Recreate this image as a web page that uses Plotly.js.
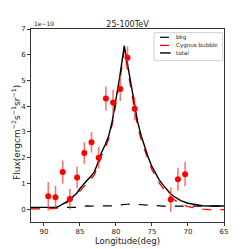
<!DOCTYPE html>
<html><head><meta charset="utf-8">
<script src="https://cdn.plot.ly/plotly-3.0.1.min.js"></script>
<style>html,body{margin:0;padding:0;background:#fff}#chart{width:249px;height:249px}</style>
</head><body><div id="chart"></div>
<script>
// data (flux in units of 1e-10)
const obsLon = [89.4, 88.4, 87.4, 86.4, 85.4, 84.4, 83.4, 82.4, 81.4, 80.4, 79.4, 78.4, 77.4, 72.4, 71.4, 70.4];
const obsFlux = [0.5, 0.46, 1.44, 0.39, 1.23, 2.18, 2.6, 2.0, 4.3, 4.14, 4.67, 5.88, 3.9, 0.37, 1.16, 1.36];
const obsErr = [0.55, 0.45, 0.45, 0.4, 0.42, 0.42, 0.4, 0.42, 0.47, 0.5, 0.47, 0.45, 0.45, 0.47, 0.45, 0.47];

const modelLon = [91.8, 91, 90, 89, 88.5, 88, 87.5, 87, 86.5, 86, 85.5, 85, 84.5, 84, 83.5, 83, 82.5, 82, 81.5, 81, 80.5, 80, 79.5, 79, 78.85, 78.5, 78, 77.5, 77, 76.5, 76, 75.5, 75, 74.5, 74, 73.5, 73, 72.5, 72, 71, 70, 69, 68, 67, 66, 65];
const bkgFlux = [0.05, 0.05, 0.05, 0.05, 0.05, 0.05, 0.05, 0.05, 0.05, 0.05, 0.07, 0.1, 0.12, 0.13, 0.12, 0.12, 0.12, 0.12, 0.12, 0.12, 0.13, 0.15, 0.17, 0.18, 0.19, 0.19, 0.2, 0.19, 0.18, 0.16, 0.14, 0.13, 0.12, 0.12, 0.12, 0.12, 0.12, 0.12, 0.12, 0.12, 0.12, 0.12, 0.12, 0.12, 0.12, 0.12];
const bubbleFlux = [0.01, 0.01, 0.01, 0.01, 0.02, 0.05, 0.12, 0.21, 0.32, 0.42, 0.52, 0.7, 0.86, 1.0, 1.15, 1.33, 1.68, 2.08, 2.38, 2.73, 3.32, 4.05, 4.93, 5.87, 6.17, 5.6, 4.8, 3.92, 3.22, 2.7, 2.26, 1.88, 1.53, 1.25, 1.02, 0.83, 0.66, 0.5, 0.38, 0.2, 0.1, 0.04, 0.0, -0.02, -0.02, -0.02];
const totalFlux = [0.07, 0.07, 0.07, 0.07, 0.07, 0.1, 0.17, 0.26, 0.37, 0.47, 0.6, 0.8, 0.98, 1.12, 1.27, 1.45, 1.8, 2.2, 2.5, 2.85, 3.45, 4.2, 5.1, 6.05, 6.35, 5.8, 5.0, 4.1, 3.4, 2.85, 2.4, 2.0, 1.65, 1.37, 1.14, 0.95, 0.78, 0.62, 0.5, 0.33, 0.23, 0.17, 0.13, 0.12, 0.12, 0.12];

const xTicks = [90, 85, 80, 75, 70, 65];
const yTicks = [0, 1, 2, 3, 4, 5, 6, 7];
const legendNames = ['bkg', 'Cygnus bubble', 'total'];

const font = 'DejaVu Sans, sans-serif';
const lineStyles = [
  {color: 'black', dash: 'dash', width: 1.2},
  {color: 'red', dash: 'dash', width: 1.3},
  {color: 'black', width: 1.4}
];
const series = [bkgFlux, bubbleFlux, totalFlux];
const traces = series.map((s, i) => ({x: modelLon, y: s, mode: 'lines', name: legendNames[i], showlegend: false, line: lineStyles[i]}));
traces.push({x: obsLon, y: obsFlux, mode: 'markers', showlegend: false,
   marker: {color: 'red', size: 6},
   error_y: {type: 'data', array: obsErr, visible: true, color: 'rgba(255,40,40,0.65)', thickness: 1.6, width: 0}});

// manual compact legend (matplotlib-like)
const legX0 = 0.6373, legX1 = 0.9930, legY0 = 0.836, legY1 = 0.981;
const rowY = [0.957, 0.915, 0.876];
const shapes = [{type: 'rect', xref: 'paper', yref: 'paper', x0: legX0, x1: legX1, y0: legY0, y1: legY1, line: {color: '#d0d0d0', width: 1}, fillcolor: 'rgba(255,255,255,0.85)'}];
const annotations = [
  {text: '1e−10', xref: 'paper', yref: 'paper', x: 0, y: 1, xanchor: 'left', yanchor: 'bottom', showarrow: false, font: {family: font, size: 6, color: '#222'}, xshift: 1},
  {text: 'Flux(ergcm<sup>−2</sup>s<sup>−1</sup>sr<sup>−1</sup>)', xref: 'paper', yref: 'paper', x: 0, y: 0.461, xanchor: 'center', yanchor: 'middle', xshift: -15, textangle: -90, showarrow: false, font: {family: font, size: 9, color: '#222'}}
];
legendNames.forEach((n, i) => {
  shapes.push({type: 'line', xref: 'paper', yref: 'paper', x0: 0.6684, x1: 0.7238, y0: rowY[i], y1: rowY[i], line: lineStyles[i]});
  annotations.push({text: n, xref: 'paper', yref: 'paper', x: 0.7409, y: rowY[i], xanchor: 'left', yanchor: 'middle', showarrow: false, font: {family: font, size: 5.6, color: '#222'}});
});

const axisCommon = {showline: true, linecolor: '#333', linewidth: 1, mirror: true, ticks: 'outside', ticklen: 3, tickcolor: '#333', showgrid: false, zeroline: false, tickfont: {family: font, size: 7, color: '#222'}};
const layout = {
  width: 249, height: 249,
  margin: {l: 31, r: 25, t: 29, b: 27},
  paper_bgcolor: 'white', plot_bgcolor: 'white',
  title: {text: '25-100TeV', font: {family: font, size: 8, color: '#222'}, x: 0.512, xanchor: 'center', y: 0.9024, yanchor: 'middle'},
  xaxis: Object.assign({}, axisCommon, {range: [91.8, 65], tickvals: xTicks, title: {text: 'Longitude(deg)', font: {family: font, size: 8.5, color: '#222'}, standoff: 1}}),
  yaxis: Object.assign({}, axisCommon, {range: [-0.5, 7], tickvals: yTicks}),
  shapes: shapes,
  annotations: annotations,
  showlegend: false
};
Plotly.newPlot('chart', traces, layout, {displayModeBar: false, staticPlot: true});
</script></body></html>
